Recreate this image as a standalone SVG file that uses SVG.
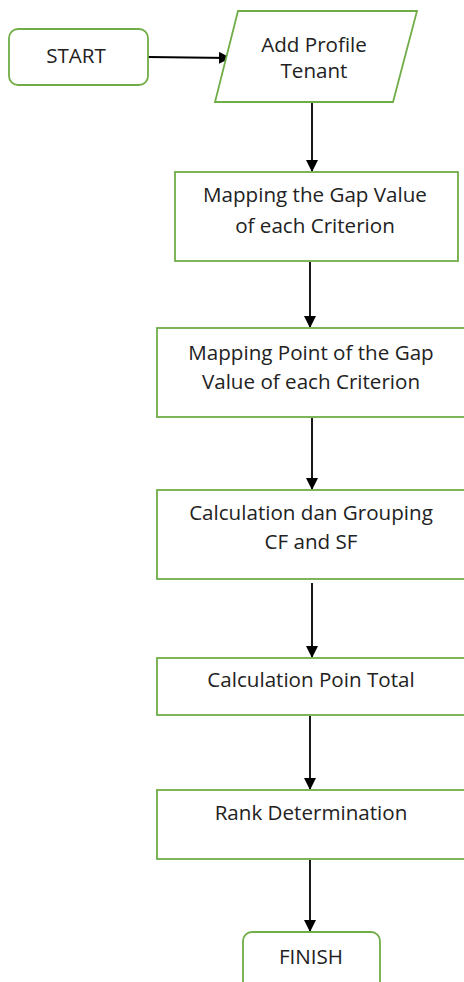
<svg xmlns="http://www.w3.org/2000/svg" width="464" height="982" viewBox="0 0 464 982">
<defs>
<marker id="ah" markerWidth="12" markerHeight="12" refX="11" refY="6" orient="auto" markerUnits="userSpaceOnUse">
<path d="M0,0 L12,6 L0,12 Z" fill="#000"/>
</marker>
<style>
.n{fill:#fff;stroke:#70AD47;stroke-width:1.8}
.t{font-family:"Open Sans","Liberation Sans",sans-serif;font-size:20.6px;fill:#222;text-anchor:middle}
.c{stroke:#000;stroke-width:1.8;fill:none;marker-end:url(#ah)}
</style>
</defs>
<rect width="464" height="982" fill="#fff"/>
<g id="connectors">
<line class="c" x1="148" y1="57" x2="230" y2="58"/>
<line class="c" x1="312" y1="103" x2="312" y2="171"/>
<line class="c" x1="310" y1="262" x2="310" y2="327"/>
<line class="c" x1="312" y1="418" x2="312" y2="489"/>
<line class="c" x1="312" y1="583" x2="312" y2="657"/>
<line class="c" x1="310" y1="716" x2="310" y2="789"/>
<line class="c" x1="310" y1="860" x2="310" y2="931"/>
</g>
<g id="start">
<rect class="n" x="9" y="29" width="139" height="56" rx="9"/>
<text class="t" x="76" y="63" font-size="21">START</text>
</g>
<g id="add-profile">
<polygon class="n" points="238,11 417,11 393,102 215,102"/>
<text class="t" x="314" y="52" font-size="17.5">Add Profile</text>
<text class="t" x="314" y="78" font-size="17.5">Tenant</text>
</g>
<g id="gap-value">
<rect class="n" x="175" y="172" width="283" height="89"/>
<text class="t" x="315" y="202">Mapping the Gap Value</text>
<text class="t" x="315" y="233">of each Criterion</text>
</g>
<g id="gap-point">
<rect class="n" x="157" y="328" width="310" height="89"/>
<text class="t" x="311" y="360">Mapping Point of the Gap</text>
<text class="t" x="311" y="389">Value of each Criterion</text>
</g>
<g id="grouping">
<rect class="n" x="157" y="490" width="310" height="89"/>
<text class="t" x="311" y="520">Calculation dan Grouping</text>
<text class="t" x="311" y="549">CF and SF</text>
</g>
<g id="total">
<rect class="n" x="157" y="658" width="310" height="57"/>
<text class="t" x="311" y="687">Calculation Poin Total</text>
</g>
<g id="rank">
<rect class="n" x="157" y="790" width="310" height="69"/>
<text class="t" x="311" y="820">Rank Determination</text>
</g>
<g id="finish">
<rect class="n" x="243" y="932" width="137" height="60" rx="9"/>
<text class="t" x="311" y="964">FINISH</text>
</g>
</svg>
